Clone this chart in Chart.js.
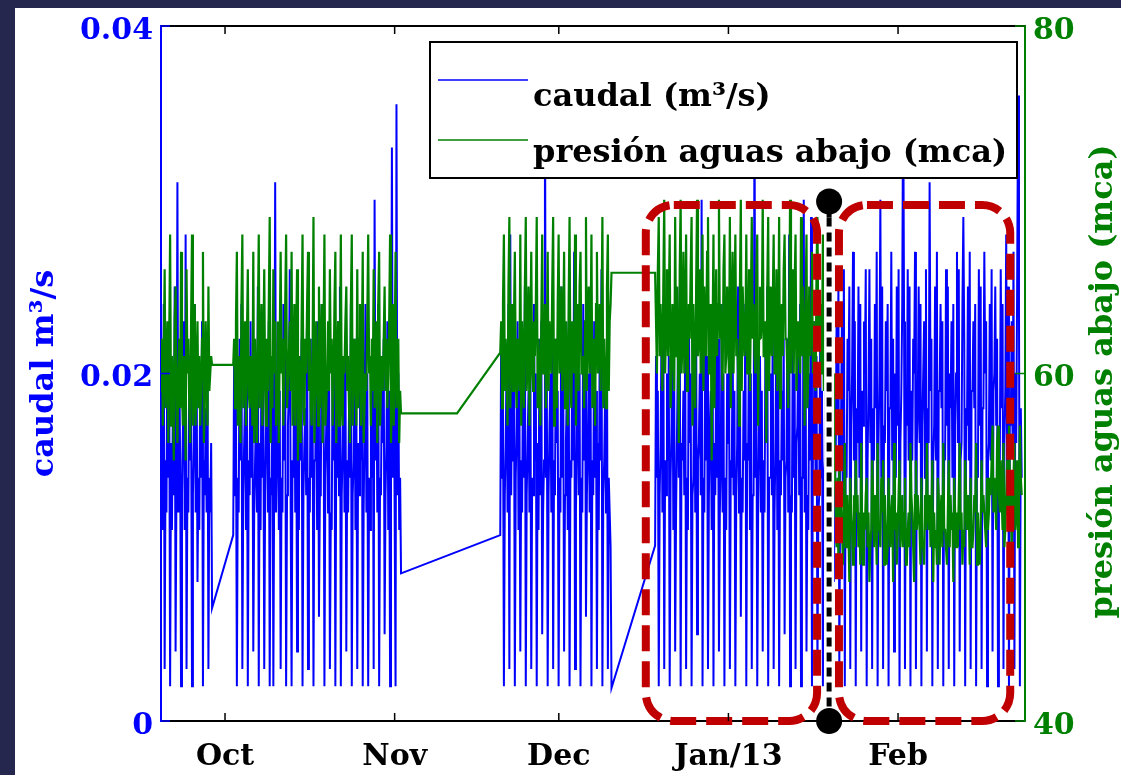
<!DOCTYPE html>
<html>
<head>
<meta charset="utf-8">
<script src="https://cdn.jsdelivr.net/npm/chart.js@4.4.0/dist/chart.umd.min.js"></script>
<style>
  html, body { margin: 0; padding: 0; background: #26274f; overflow: hidden; }
  #panel { position: absolute; left: 15px; top: 8px; width: 1106px; height: 767px; background: #fff; }
  #chart { position: absolute; left: 0; top: 0; }
</style>
</head>
<body>
<div id="panel"></div>
<canvas id="chart" width="1121" height="775"></canvas>
<script>
// days counted from 1 Oct 2012, one sample every 4 h inside each recorded block
const segStart = [-11.7, 1.5, 50.3, 78.6];
const sampleStep = 1 / 6;

// caudal in l/s (converted to m3/s when plotted), one row = one day
const caudalA = [
  13, 19, 11, 24, 3, 15,
  12, 22, 14, 20, 2, 16,
  11, 18, 13, 25, 4, 14,
  31, 12, 21, 15, 2, 13,
  17, 23, 11, 28, 3, 14,
  12, 21, 15, 19, 2, 13,
  16, 24, 12, 22, 8, 14,
  11, 20, 14, 23, 2, 15,
  13, 18, 12, 21, 3, 14,
  12, 16, 6.5
];
const caudalB = [
  10.7, 21, 13, 18, 2, 14,
  12, 22, 15, 24, 3, 13,
  16, 19, 11, 21, 2, 15,
  13, 23, 14, 20, 4, 12,
  15, 18, 12, 25, 2, 16,
  11, 22, 14, 19, 3, 13,
  17, 21, 12, 23, 2, 14,
  13, 20, 2, 15, 31, 12,
  16, 22, 11, 19, 3, 14,
  12, 24, 15, 21, 2, 13,
  17, 19, 26, 12, 2, 15,
  14, 23, 12, 20, 4, 16,
  11, 21, 15, 22, 2, 13,
  16, 18, 13, 24, 3, 14,
  12, 22, 14, 19, 2, 15,
  15, 20, 11, 23, 6, 13,
  13, 24, 16, 21, 2, 14,
  17, 19, 12, 22, 3, 12,
  11, 21, 15, 20, 2, 16,
  14, 23, 13, 25, 2, 13,
  16, 20, 12, 22, 4, 15,
  12, 18, 14, 24, 2, 13,
  15, 22, 11, 19, 3, 16,
  13, 21, 15, 23, 2, 12,
  17, 24, 12, 20, 2, 14,
  11, 19, 14, 22, 3, 30,
  15, 21, 12, 24, 2, 14,
  13, 20, 16, 22, 5, 13,
  16, 23, 11, 19, 2, 15,
  33, 14, 21, 12, 2, 35.5,
  13, 20, 11, 14, 8.5
];
const caudalC = [
  10.7, 22, 14, 19, 2, 13,
  16, 21, 12, 24, 3, 28,
  13, 20, 15, 22, 2, 14,
  17, 23, 11, 19, 4, 15,
  12, 21, 14, 25, 2, 13,
  16, 19, 12, 22, 3, 14,
  13, 24, 15, 20, 2, 16,
  11, 22, 13, 23, 5, 12,
  15, 38, 14, 21, 2, 13,
  17, 20, 12, 24, 3, 15,
  13, 22, 16, 19, 2, 14,
  12, 25, 14, 21, 4, 13,
  16, 19, 11, 23, 2, 15,
  14, 21, 15, 27, 3, 12,
  17, 22, 13, 20, 2, 14,
  12, 24, 15, 22, 6, 13,
  16, 20, 12, 21, 2, 15,
  13, 23, 14, 19, 3, 16,
  11, 21, 15, 26, 2, 13,
  15, 19, 12, 22, 3, 14,
  12, 10, 1.9
];
const caudalD = [
  10.1, 21, 14, 19, 2, 13,
  16, 22, 12, 24, 3, 15,
  13, 20, 15, 21, 2, 14,
  17, 23, 11, 19, 4, 12,
  12, 21, 14, 25, 2, 16,
  15, 19, 13, 22, 3, 14,
  11, 24, 16, 20, 2, 13,
  14, 22, 12, 23, 5, 15,
  16, 20, 13, 30, 2, 14,
  12, 23, 15, 21, 3, 13,
  17, 19, 11, 24, 2, 16,
  13, 21, 14, 22, 4, 12,
  15, 24, 12, 20, 2, 14,
  11, 20, 16, 23, 3, 15,
  14, 22, 13, 19, 2, 13,
  16, 25, 12, 21, 6, 14,
  12, 19, 15, 24, 2, 16,
  15, 23, 11, 20, 3, 13,
  13, 36, 14, 22, 2, 12,
  17, 21, 12, 19, 4, 15,
  12, 22, 16, 25, 2, 14,
  14, 20, 13, 23, 3, 12,
  16, 24, 11, 21, 2, 15,
  13, 19, 15, 22, 5, 14,
  15, 22, 12, 28, 2, 13,
  12, 23, 14, 20, 3, 16,
  17, 21, 13, 24, 2, 14,
  14, 30, 12, 22, 4, 13,
  11, 20, 15, 29, 2, 15,
  16, 23, 13, 21, 3, 12,
  13, 22, 14, 19, 2, 14,
  15, 24, 12, 23, 3, 16,
  12, 21, 14, 20, 8, 13,
  15, 23, 17, 25, 3, 14,
  18, 24, 13, 26, 2, 16,
  14, 22, 19, 25, 3, 17,
  20, 27, 15, 23, 2, 18,
  16, 25, 14, 24, 4, 19,
  17, 23, 20, 26, 2, 15,
  19, 26, 16, 22, 3, 18,
  15, 24, 18, 27, 2, 16,
  20, 30, 14, 25, 3, 17,
  16, 23, 19, 24, 2, 18,
  18, 27, 15, 22, 4, 20,
  14, 25, 17, 26, 2, 16,
  19, 24, 37, 23, 3, 18,
  17, 26, 15, 25, 2, 19,
  15, 22, 20, 27, 3, 16,
  18, 25, 16, 24, 2, 17,
  20, 23, 14, 26, 4, 18,
  16, 31, 19, 22, 2, 15,
  17, 25, 15, 27, 3, 19,
  19, 24, 18, 23, 2, 16,
  15, 26, 17, 25, 3, 20,
  18, 23, 14, 24, 2, 17,
  20, 27, 16, 26, 4, 15,
  16, 24, 29, 22, 2, 18,
  17, 25, 15, 27, 3, 19,
  19, 23, 18, 24, 2, 16,
  14, 26, 17, 25, 3, 18,
  18, 27, 20, 23, 2, 15,
  16, 24, 15, 26, 4, 19,
  20, 25, 17, 22, 2, 17,
  15, 26, 18, 24, 3, 16,
  19, 28, 14, 25, 2, 18,
  17, 23, 16, 27, 3, 20,
  16, 25, 36, 24, 2, 18,
  14
];

// downstream pressure in mca
const presionA = [
  59, 62, 57, 61, 66, 58,
  60, 63, 56, 62, 68, 57,
  61, 59, 55, 63, 65, 58,
  56, 60, 62, 58, 67, 59,
  57, 61, 59, 55, 66, 60,
  62, 58, 56, 63, 68, 57,
  59, 64, 57, 60, 63, 58,
  61, 57, 59, 62, 67, 56,
  58, 63, 60, 57, 65, 59,
  60, 61, 60.5
];
const presionB = [
  60.5, 62, 58, 63, 67, 57,
  61, 59, 56, 64, 68, 58,
  60, 63, 57, 62, 66, 59,
  58, 61, 60, 57, 67, 56,
  62, 59, 56, 63, 68, 58,
  60, 64, 57, 61, 66, 59,
  57, 62, 59, 64, 69, 56,
  61, 58, 66, 60, 63, 57,
  59, 63, 56, 62, 67, 60,
  62, 57, 60, 64, 68, 58,
  58, 61, 63, 59, 67, 57,
  60, 64, 57, 62, 66, 55,
  61, 59, 56, 63, 68, 58,
  57, 62, 60, 64, 67, 59,
  62, 58, 57, 61, 69, 56,
  59, 63, 60, 57, 65, 58,
  61, 64, 56, 62, 68, 57,
  58, 60, 63, 59, 66, 60,
  62, 57, 59, 64, 67, 56,
  60, 63, 57, 61, 68, 58,
  57, 61, 60, 63, 65, 59,
  61, 58, 56, 64, 68, 57,
  59, 62, 60, 57, 66, 58,
  62, 64, 57, 61, 67, 56,
  58, 60, 59, 63, 68, 60,
  61, 57, 62, 59, 66, 58,
  60, 63, 56, 64, 67, 57,
  57, 61, 59, 62, 65, 59,
  62, 58, 60, 63, 68, 56,
  59, 64, 57, 61, 67, 58,
  60, 62, 56, 59, 57.7
];
// one isolated reading inside the November gap
const presionGapDay = [42.4];
const presionGapValue = [57.7];
const presionC = [
  61.2, 63, 58, 64, 68, 59,
  62, 60, 57, 65, 69, 58,
  61, 64, 59, 63, 67, 60,
  58, 62, 61, 59, 68, 57,
  63, 60, 58, 65, 69, 59,
  61, 65, 57, 62, 67, 60,
  59, 63, 61, 64, 69, 58,
  62, 59, 57, 63, 68, 60,
  60, 64, 58, 61, 67, 59,
  63, 61, 60, 65, 69, 57,
  59, 62, 58, 64, 68, 60,
  61, 65, 59, 62, 67, 58,
  63, 60, 57, 64, 69, 59,
  58, 63, 61, 60, 68, 57,
  62, 64, 59, 65, 67, 60,
  60, 61, 58, 63, 69, 59,
  63, 65, 60, 62, 68, 58,
  59, 62, 57, 64, 67, 60,
  61, 64, 59, 63, 69, 58,
  62, 60, 58, 65, 68, 59,
  63, 64, 65.8
];
const presionD = [
  65.8, 63, 60, 66, 69, 61,
  64, 62, 59, 65, 70, 60,
  63, 66, 61, 64, 68, 58,
  60, 64, 62, 59, 69, 61,
  65, 61, 56, 66, 70, 60,
  62, 67, 60, 63, 68, 59,
  61, 64, 62, 66, 69, 57,
  64, 60, 58, 65, 70, 61,
  62, 66, 60, 63, 68, 59,
  65, 62, 61, 67, 69, 60,
  60, 64, 55, 62, 68, 58,
  63, 66, 61, 64, 70, 62,
  64, 61, 59, 66, 68, 60,
  61, 65, 62, 60, 69, 58,
  63, 67, 60, 64, 68, 61,
  62, 60, 57, 65, 70, 59,
  65, 63, 61, 62, 68, 60,
  60, 66, 59, 64, 69, 62,
  64, 61, 60, 66, 68, 57,
  62, 65, 62, 63, 70, 61,
  61, 63, 56, 65, 69, 59,
  65, 62, 61, 64, 68, 60,
  60, 66, 59, 62, 69, 58,
  63, 64, 61, 66, 68, 62,
  62, 60, 58, 63, 70, 60,
  64, 66, 60, 65, 68, 59,
  61, 63, 62, 60, 69, 61,
  65, 62, 57, 64, 68, 58,
  60, 65, 61, 63, 67, 60,
  63, 61, 59, 66, 69, 62,
  62, 64, 60, 61, 68, 59,
  61, 63, 58, 62, 66, 57,
  59, 61, 56, 58, 60, 55,
  52, 50, 54, 49, 55, 51,
  53, 51, 49, 52, 56, 50,
  50, 53, 51, 48, 54, 52,
  51, 49, 53, 50, 55, 52,
  53, 50, 52, 49, 56, 51,
  49, 52, 51, 53, 54, 50,
  52, 48, 50, 51, 55, 53,
  50, 53, 52, 49, 56, 51,
  51, 50, 54, 52, 55, 49,
  53, 51, 49, 50, 54, 52,
  50, 52, 53, 48, 56, 51,
  52, 49, 51, 53, 55, 50,
  51, 53, 50, 52, 54, 49,
  49, 51, 52, 50, 56, 53,
  52, 50, 48, 53, 55, 51,
  53, 52, 51, 49, 54, 50,
  50, 49, 53, 51, 56, 52,
  51, 53, 50, 52, 55, 48,
  52, 50, 51, 49, 54, 53,
  49, 52, 53, 50, 56, 51,
  51, 50, 49, 52, 55, 50,
  53, 51, 52, 48, 54, 52,
  50, 52, 50, 53, 56, 51,
  52, 49, 51, 50, 55, 53,
  51, 53, 52, 49, 54, 50,
  50, 51, 53, 52, 56, 49,
  52, 50, 49, 51, 55, 52,
  53, 52, 51, 50, 54, 51,
  52, 54, 53, 55, 57, 52,
  54, 53, 51, 56, 57, 53,
  52, 55, 53, 51, 56, 50,
  51, 53, 55, 52, 57, 54,
  53, 50, 52, 54, 56, 51,
  52, 55, 50, 53, 57, 54,
  53
];

const tickDays = [0, 31, 61, 92, 123];
const tickLabels = ["Oct", "Nov", "Dec", "Jan/13", "Feb"];
const caudalTicks = [0, 0.02, 0.04];
const caudalTickLabels = ["0", "0.02", "0.04"];
const presionTicks = [40, 60, 80];
const presionTickLabels = ["40", "60", "80"];
const dayMin = -11.7;
const dayMax = 146.2;

// highlighted periods (days) and the split instant
const highlightRanges = [[76.9, 108.2], [112.2, 143.5]];
const highlightTop = 0.0297;
const splitDay = 110.4;
const splitTop = 0.0299;

const BLUE = "#0000ff";
const GREEN = "#008000";
const SERIF = '"DejaVu Serif", serif';

const toPoints = (start, values, scale = 1) =>
  values.map((v, i) => ({ x: start + i * sampleStep, y: v * scale }));

const caudalData = [
  ...toPoints(segStart[0], caudalA, 0.001),
  ...toPoints(segStart[1], caudalB, 0.001),
  ...toPoints(segStart[2], caudalC, 0.001),
  ...toPoints(segStart[3], caudalD, 0.001),
];
const presionData = [
  ...toPoints(segStart[0], presionA),
  ...toPoints(segStart[1], presionB),
  ...presionGapDay.map((d, i) => ({ x: d, y: presionGapValue[i] })),
  ...toPoints(segStart[2], presionC),
  ...toPoints(segStart[3], presionD),
];

const overlayPlugin = {
  id: "overlay",
  afterDatasetsDraw(chart) {
    const { ctx, chartArea: area } = chart;
    const { x, y, y2 } = chart.scales;
    ctx.save();

    // red dashed rounded boxes
    ctx.strokeStyle = "#c00000";
    ctx.lineWidth = 8;
    ctx.setLineDash([26, 10]);
    highlightRanges.forEach(([d0, d1]) => {
      const left = x.getPixelForValue(d0);
      const right = x.getPixelForValue(d1);
      const top = y.getPixelForValue(highlightTop);
      const bottom = y.getPixelForValue(0);
      ctx.beginPath();
      ctx.roundRect(left, top, right - left, bottom - top, 28);
      ctx.stroke();
    });

    // split line with end dots
    const sx = x.getPixelForValue(splitDay);
    const sTop = y.getPixelForValue(splitTop);
    const sBot = y.getPixelForValue(0);
    ctx.setLineDash([]);
    ctx.strokeStyle = "#fff";
    ctx.lineWidth = 10;
    ctx.beginPath();
    ctx.moveTo(sx, sTop + 14);
    ctx.lineTo(sx, sBot);
    ctx.stroke();
    ctx.strokeStyle = "#000";
    ctx.lineWidth = 5;
    ctx.beginPath();
    ctx.moveTo(sx, sTop);
    ctx.lineTo(sx, sTop + 16);
    ctx.stroke();
    ctx.setLineDash([9, 6]);
    ctx.beginPath();
    ctx.moveTo(sx, sTop + 16);
    ctx.lineTo(sx, sBot);
    ctx.stroke();
    ctx.setLineDash([]);
    ctx.fillStyle = "#000";
    [sTop, sBot].forEach((py) => {
      ctx.beginPath();
      ctx.arc(sx, py, 13, 0, Math.PI * 2);
      ctx.fill();
    });

    // frame top and inner tick marks
    ctx.strokeStyle = "#000";
    ctx.lineWidth = 2;
    ctx.beginPath();
    ctx.moveTo(area.left, area.top);
    ctx.lineTo(area.right, area.top);
    ctx.stroke();
    ctx.lineWidth = 1.5;
    tickDays.forEach((d) => {
      const px = x.getPixelForValue(d);
      ctx.beginPath();
      ctx.moveTo(px, area.bottom);
      ctx.lineTo(px, area.bottom - 8);
      ctx.moveTo(px, area.top);
      ctx.lineTo(px, area.top + 8);
      ctx.stroke();
    });
    ctx.strokeStyle = BLUE;
    caudalTicks.forEach((v) => {
      const py = y.getPixelForValue(v);
      ctx.beginPath();
      ctx.moveTo(area.left, py);
      ctx.lineTo(area.left + 9, py);
      ctx.stroke();
    });
    ctx.strokeStyle = GREEN;
    presionTicks.forEach((v) => {
      const py = y2.getPixelForValue(v);
      ctx.beginPath();
      ctx.moveTo(area.right, py);
      ctx.lineTo(area.right - 10, py);
      ctx.stroke();
    });

    // legend box
    const lg = {
      left: area.left + 269,
      top: area.top + 16,
      right: area.right - 8,
      bottom: area.top + 152,
    };
    ctx.fillStyle = "#fff";
    ctx.fillRect(lg.left, lg.top, lg.right - lg.left, lg.bottom - lg.top);
    ctx.strokeStyle = "#000";
    ctx.lineWidth = 2;
    ctx.strokeRect(lg.left, lg.top, lg.right - lg.left, lg.bottom - lg.top);
    const rows = [
      { ds: chart.data.datasets[0], lineY: lg.top + 38, textY: lg.top + 64 },
      { ds: chart.data.datasets[1], lineY: lg.top + 98, textY: lg.top + 120 },
    ];
    ctx.font = "bold 32px " + SERIF;
    ctx.textAlign = "left";
    ctx.textBaseline = "alphabetic";
    rows.forEach((r) => {
      ctx.strokeStyle = r.ds.borderColor;
      ctx.lineWidth = 1.5;
      ctx.beginPath();
      ctx.moveTo(lg.left + 8, r.lineY);
      ctx.lineTo(lg.left + 98, r.lineY);
      ctx.stroke();
      ctx.fillStyle = "#000";
      ctx.fillText(r.ds.label, lg.left + 103, r.textY);
    });

    // axis titles, both reading upwards
    const midY = (area.top + area.bottom) / 2;
    ctx.font = "bold 32px " + SERIF;
    ctx.textAlign = "center";
    ctx.fillStyle = BLUE;
    ctx.save();
    ctx.translate(53, midY);
    ctx.rotate(-Math.PI / 2);
    ctx.fillText("caudal m³/s", 0, 0);
    ctx.restore();
    ctx.fillStyle = GREEN;
    ctx.save();
    ctx.translate(1112, midY + 8);
    ctx.rotate(-Math.PI / 2);
    ctx.fillText("presión aguas abajo (mca)", 0, 0);
    ctx.restore();

    ctx.restore();
  },
};

const tickFont = { family: SERIF, size: 30, weight: "bold" };

new Chart(document.getElementById("chart"), {
  type: "line",
  data: {
    datasets: [
      {
        label: "caudal (m³/s)",
        data: caudalData,
        yAxisID: "y",
        borderColor: BLUE,
        borderWidth: 2,
        pointRadius: 0,
        tension: 0,
        order: 2,
      },
      {
        label: "presión aguas abajo (mca)",
        data: presionData,
        yAxisID: "y2",
        borderColor: GREEN,
        borderWidth: 2.2,
        pointRadius: 0,
        tension: 0,
        order: 1,
      },
    ],
  },
  options: {
    responsive: false,
    animation: false,
    parsing: false,
    normalized: true,
    layout: { padding: { top: 26, left: 0, right: 0, bottom: 0 } },
    plugins: {
      legend: { display: false },
      tooltip: { enabled: false },
    },
    scales: {
      x: {
        type: "linear",
        min: dayMin,
        max: dayMax,
        afterBuildTicks: (s) => {
          s.ticks = tickDays.map((v) => ({ value: v }));
        },
        afterFit: (s) => {
          s.height = 54;
        },
        ticks: {
          callback: (v, i) => tickLabels[i],
          color: "#000",
          font: tickFont,
          padding: 18,
          autoSkip: false,
          maxRotation: 0,
        },
        grid: { display: false, drawTicks: false },
        border: { color: "#000", width: 2 },
      },
      y: {
        position: "left",
        min: 0,
        max: 0.04,
        afterBuildTicks: (s) => {
          s.ticks = caudalTicks.map((v) => ({ value: v }));
        },
        afterFit: (s) => {
          s.width = 161;
        },
        ticks: {
          callback: (v, i) => caudalTickLabels[i],
          color: BLUE,
          font: tickFont,
          padding: 8,
          labelOffset: 5,
        },
        grid: { display: false, drawTicks: false },
        border: { color: BLUE, width: 2 },
      },
      y2: {
        position: "right",
        min: 40,
        max: 80,
        afterBuildTicks: (s) => {
          s.ticks = presionTicks.map((v) => ({ value: v }));
        },
        afterFit: (s) => {
          s.width = 96;
        },
        ticks: {
          callback: (v, i) => presionTickLabels[i],
          color: GREEN,
          font: tickFont,
          padding: 8,
          labelOffset: 5,
        },
        grid: { display: false, drawTicks: false },
        border: { color: GREEN, width: 2 },
      },
    },
  },
  plugins: [overlayPlugin],
});
</script>
</body>
</html>
